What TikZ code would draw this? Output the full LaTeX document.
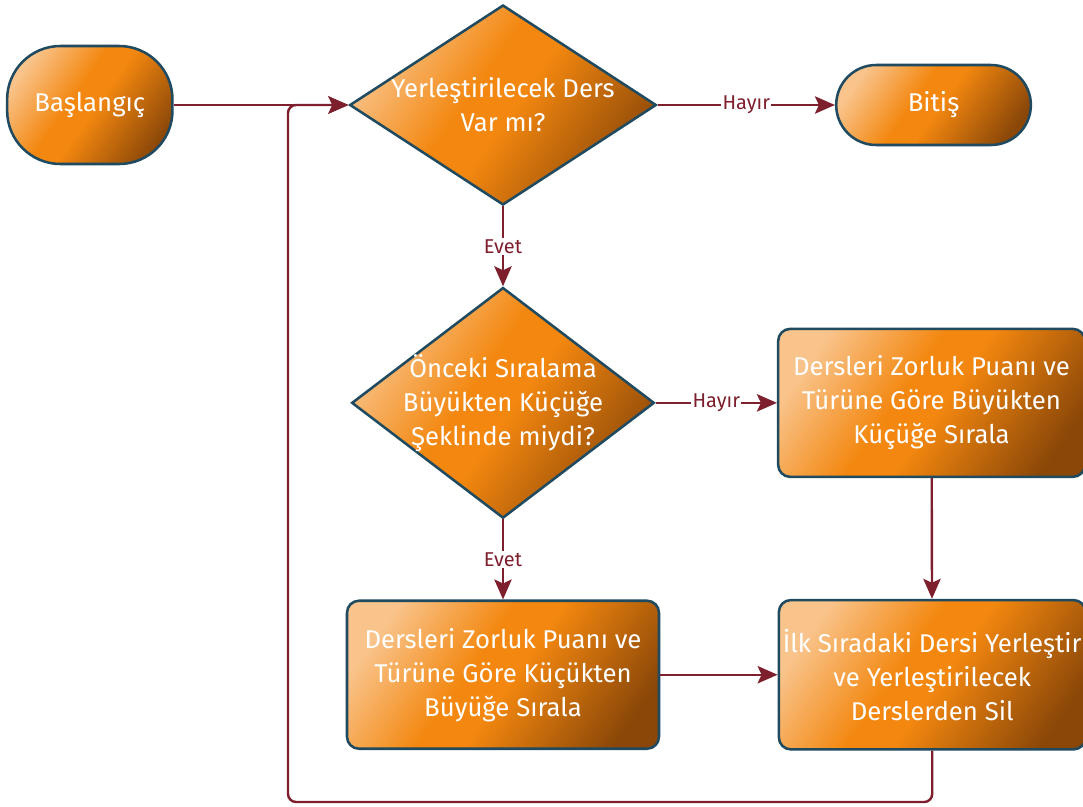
\documentclass[tikz,border=0pt]{standalone}
\usepackage{fontspec}
\setmainfont{Fira Sans}
\usetikzlibrary{arrows.meta,positioning,shapes.geometric}

\definecolor{oraLight}{HTML}{F9C48C}
\definecolor{oraMid}{HTML}{F3870F}
\definecolor{oraDark}{HTML}{8A4708}
\definecolor{edgeBlue}{HTML}{1F4A5F}
\definecolor{flowRed}{HTML}{7E1F2D}
\pgfdeclarehorizontalshading{orashade}{100bp}{color(0bp)=(oraLight);
  color(24bp)=(oraLight); color(44bp)=(oraMid); color(52bp)=(oraMid);
  color(77bp)=(oraDark); color(100bp)=(oraDark)}

\begin{document}
\begin{tikzpicture}[x=0.75pt,y=-0.75pt,->,>={Stealth[length=15pt,width=13pt,inset=3pt]},
  line width=1.8pt]
  \tikzstyle{flow}=[draw=edgeBlue,line width=1.9pt,text=white,align=center,
    font=\fontsize{19.3}{25.5}\selectfont,shading=orashade,shading angle=-35]
  \tikzstyle{terminal}=[flow,rectangle,inner sep=2pt]
  \tikzstyle{decision}=[flow,diamond,inner sep=-16pt]
  \tikzstyle{process}=[flow,rectangle,rounded corners=9pt,inner sep=1pt]
  \tikzstyle{answer}=[fill=white,text=flowRed,inner sep=1pt,
    font=\fontsize{15}{17}\selectfont]
  \tikzstyle{every edge}=[draw=flowRed,line width=1.8pt]

  \useasboundingbox (0,0) rectangle (1083,807);

  \node[decision,minimum width=230pt,minimum height=150pt] (D1) at (503,105)
    {Yerleştirilecek Ders\\Var mı?};
  \node[terminal,rounded corners=40pt,minimum width=124pt,minimum height=88.5pt]
    (S) [left=131pt of D1] {Başlangıç};
  \node[terminal,rounded corners=30pt,minimum width=146pt,minimum height=60pt]
    (F) [right=133pt of D1] {Bitiş};
  \node[decision,minimum width=227pt,minimum height=173pt] (D2) [below=60pt of D1]
    {Önceki Sıralama\\Büyükten Küçüğe\\Şeklinde miydi?};
  \node[process,minimum width=230pt,minimum height=111pt] (R1) [right=91pt of D2]
    {Dersleri Zorluk Puanı ve\\Türüne Göre Büyükten\\Küçüğe Sırala};
  \node[process,minimum width=234pt,minimum height=111pt] (R2) [below=60pt of D2]
    {Dersleri Zorluk Puanı ve\\Türüne Göre Küçükten\\Büyüğe Sırala};
  \node[process,minimum width=230pt,minimum height=112pt] (R3) [right=88pt of R2]
    {İlk Sıradaki Dersi Yerleştir\\ve Yerleştirilecek\\Derslerden Sil};
  \coordinate (L) at (288,802);

  \path (S)  edge                      (D1)
        (D1) edge node[answer] {Hayır} (F)
        (D1) edge node[answer] {Evet}  (D2)
        (D2) edge node[answer] {Hayır} (R1)
        (D2) edge node[answer] {Evet}  (R2)
        (R1) edge                      (R3)
        (R2) edge                      (R3)
        ;
  \draw[flowRed,rounded corners=6pt] (R3.south) |- (L) |- (D1.west);
\end{tikzpicture}
\end{document}
